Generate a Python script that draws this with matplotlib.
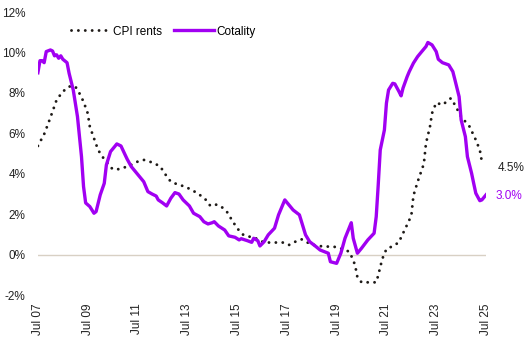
import pandas as pd
import matplotlib
matplotlib.use("Agg")
import matplotlib.pyplot as plt
import matplotlib.dates as mdates

# CPI rents, annual % change
cpi_dates = ["2007-07", "2007-10", "2007-12", "2008-02", "2008-04", "2008-07", "2008-10",
             "2009-01", "2009-03", "2009-05", "2009-07", "2009-08", "2009-10", "2009-12",
             "2010-02", "2010-04", "2010-07", "2010-10", "2011-02", "2011-05", "2011-07",
             "2011-10", "2012-01", "2012-04", "2012-06", "2012-08", "2012-11", "2013-03",
             "2013-06", "2013-09", "2013-12", "2014-04", "2014-06", "2014-08", "2014-11",
             "2015-02", "2015-04", "2015-07", "2015-10", "2016-02", "2016-04", "2016-08",
             "2016-11", "2017-03", "2017-05", "2017-08", "2017-11", "2018-02", "2018-04",
             "2018-07", "2018-10", "2019-02", "2019-05", "2019-07", "2019-10", "2020-01",
             "2020-03", "2020-04", "2020-05", "2020-07", "2021-02", "2021-03", "2021-05",
             "2021-07", "2021-10", "2022-01", "2022-02", "2022-04", "2022-07", "2022-08",
             "2022-10", "2023-01", "2023-02", "2023-04", "2023-05", "2023-07", "2023-10",
             "2024-02", "2024-04", "2024-07", "2024-11", "2025-02", "2025-04", "2025-05",
             "2025-06"]
cpi_rents = [5.38, 5.96, 6.5, 7.08, 7.66, 8.07, 8.32,
             8.32, 7.99, 7.57, 7.0, 6.34, 5.76, 5.18,
             4.85, 4.6, 4.23, 4.23, 4.36, 4.49, 4.6,
             4.69, 4.6, 4.47, 4.36, 4.03, 3.61, 3.45,
             3.37, 3.2, 3.04, 2.71, 2.43, 2.5, 2.41,
             2.13, 1.8, 1.31, 0.98, 0.86, 0.81, 0.6,
             0.6, 0.6, 0.6, 0.48, 0.64, 0.76, 0.64,
             0.51, 0.43, 0.4, 0.4, 0.37, 0.27, 0.15,
             -0.26, -0.59, -1.12, -1.37, -1.37, -1.04, -0.21,
             0.28, 0.42, 0.61, 0.86, 1.27, 1.93, 2.92,
             3.6, 4.5, 5.51, 6.34, 7.0, 7.52, 7.41,
             7.74, 7.41, 6.83, 6.34, 5.68, 5.18, 4.6,
             4.5]

# Cotality rents, annual % change
cot_dates = ["2007-07", "2007-08", "2007-09", "2007-10", "2007-11", "2008-01", "2008-02",
             "2008-03", "2008-04", "2008-05", "2008-06", "2008-07", "2008-09", "2008-10",
             "2008-12", "2009-02", "2009-04", "2009-05", "2009-06", "2009-08", "2009-10",
             "2009-11", "2010-01", "2010-03", "2010-04", "2010-06", "2010-08", "2010-09",
             "2010-11", "2011-01", "2011-02", "2011-04", "2011-06", "2011-08", "2011-10",
             "2011-12", "2012-02", "2012-04", "2012-05", "2012-07", "2012-09", "2012-11",
             "2013-01", "2013-03", "2013-05", "2013-08", "2013-10", "2014-01", "2014-03",
             "2014-05", "2014-07", "2014-08", "2014-10", "2015-01", "2015-03", "2015-06",
             "2015-08", "2015-09", "2015-12", "2016-02", "2016-03", "2016-05", "2016-06",
             "2016-08", "2016-10", "2017-01", "2017-03", "2017-06", "2017-08", "2017-10",
             "2018-01", "2018-02", "2018-04", "2018-06", "2018-09", "2018-11", "2019-03",
             "2019-04", "2019-07", "2019-09", "2019-11", "2020-02", "2020-03", "2020-05",
             "2020-07", "2020-10", "2021-01", "2021-02", "2021-03", "2021-04", "2021-06",
             "2021-07", "2021-08", "2021-10", "2021-11", "2022-01", "2022-02", "2022-03",
             "2022-05", "2022-06", "2022-08", "2022-10", "2022-12", "2023-02", "2023-03",
             "2023-05", "2023-07", "2023-08", "2023-10", "2024-01", "2024-03", "2024-04",
             "2024-06", "2024-07", "2024-09", "2024-10", "2024-12", "2025-01", "2025-02",
             "2025-04", "2025-05", "2025-07"]
cotality = [9.0, 9.6, 9.6, 9.5, 10.05, 10.13, 10.08,
            9.84, 9.89, 9.72, 9.84, 9.67, 9.5, 8.98,
            8.15, 6.83, 4.85, 3.37, 2.56, 2.38, 2.05,
            2.13, 2.96, 3.53, 4.44, 5.1, 5.35, 5.48,
            5.38, 4.94, 4.72, 4.36, 4.11, 3.86, 3.61,
            3.12, 3.0, 2.9, 2.71, 2.57, 2.41, 2.79,
            3.07, 3.0, 2.71, 2.41, 2.05, 1.88, 1.63,
            1.52, 1.58, 1.63, 1.42, 1.22, 0.93, 0.86,
            0.73, 0.79, 0.69, 0.61, 0.81, 0.69, 0.43,
            0.64, 0.98, 1.31, 1.97, 2.71, 2.46, 2.21,
            1.97, 1.63, 0.98, 0.64, 0.40, 0.23, 0.07,
            -0.35, -0.43, 0.07, 0.81, 1.58, 0.81, 0.07,
            0.32, 0.73, 1.06, 1.88, 3.37, 5.18, 6.17,
            7.5, 8.15, 8.48, 8.45, 8.07, 7.86, 8.24,
            8.81, 9.06, 9.48, 9.8, 10.05, 10.3, 10.5,
            10.38, 10.05, 9.67, 9.5, 9.39, 9.06, 8.65,
            7.82, 6.67, 5.84, 4.85, 4.03, 3.53, 3.04,
            2.67, 2.71, 2.96]

tick_years = list(range(2007, 2026, 2))

PURPLE = "#A100F2"
DARK = "#1E1A17"

plt.rcParams["font.family"] = ["Liberation Sans", "DejaVu Sans"]
plt.rcParams["font.size"] = 8.5

cpi_x = pd.to_datetime(cpi_dates)
cot_x = pd.to_datetime(cot_dates)

fig = plt.figure(figsize=(5.26, 3.38), dpi=100)
ax = fig.add_axes([0.072, 0.127, 0.852, 0.837])

ax.axhline(0, color="#D8D0C4", lw=1.0, zorder=1)
ax.plot(cpi_x, cpi_rents, color=DARK, lw=2.1, linestyle=(0, (0.01, 2.35)),
        dash_capstyle="round", label="CPI rents", zorder=2)
ax.plot(cot_x, cotality, color=PURPLE, lw=2.4, label="Cotality", zorder=3,
        solid_joinstyle="round")

ax.annotate(f"{cpi_rents[-1]:.1f}%", (cpi_x[-1], cpi_rents[-1]), xytext=(10, -3),
            textcoords="offset points", color="#222222", fontsize=8.5, va="center")
ax.annotate(f"{cotality[-1]:.1f}%", (cot_x[-1], cotality[-1]), xytext=(7, -1),
            textcoords="offset points", color=PURPLE, fontsize=8.5, va="center")

ax.set_ylim(-2, 12)
ax.set_yticks(range(-2, 13, 2))
ax.set_yticklabels([f"{v}%" for v in range(-2, 13, 2)])
ax.set_xlim(pd.Timestamp("2007-07-01"), pd.Timestamp("2025-07-01"))
ax.set_xticks([pd.Timestamp(f"{y}-07-01") for y in tick_years])
ax.xaxis.set_major_formatter(mdates.DateFormatter("%b %y"))
plt.setp(ax.get_xticklabels(), rotation=90)
ax.tick_params(length=0, pad=6, colors="#222222")
ax.tick_params(axis="y", pad=9)
for s in ax.spines.values():
    s.set_visible(False)

leg = ax.legend(loc="upper left", bbox_to_anchor=(0.05, 0.99), ncol=2, frameon=False,
                handlelength=3.4, columnspacing=1.0, handletextpad=0.2, fontsize=8.5)

fig.savefig("out.png", dpi=100)
